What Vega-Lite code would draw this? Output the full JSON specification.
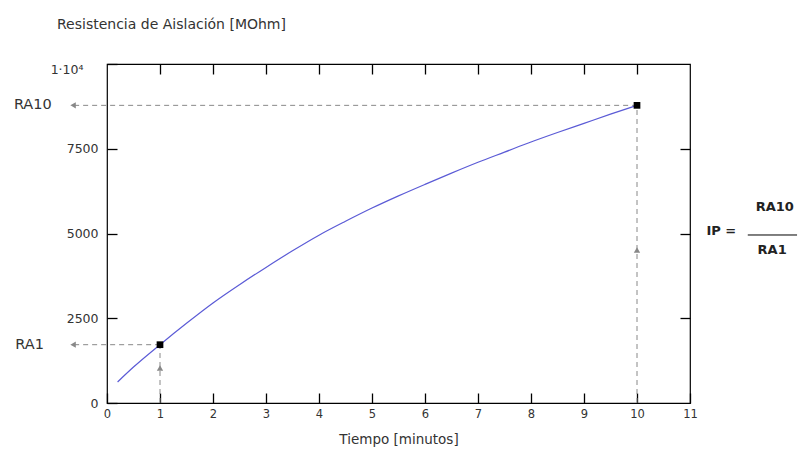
{
  "$schema": "https://vega.github.io/schema/vega-lite/v6.json",
  "width": 583,
  "height": 339,
  "autosize": "none",
  "padding": {"left": 107, "top": 64, "right": 108, "bottom": 49},
  "background": "white",
  "title": {
    "text": "Resistencia de Aislación [MOhm]",
    "anchor": "start",
    "frame": "group",
    "dx": -50,
    "offset": 20,
    "baseline": "alphabetic",
    "fontSize": 14,
    "fontWeight": "normal",
    "font": "DejaVu Sans",
    "color": "#333333"
  },
  "config": {
    "font": "DejaVu Sans",
    "view": {"stroke": "#000000", "strokeWidth": 1.2},
    "axis": {
      "labelFont": "DejaVu Sans",
      "labelColor": "#333333",
      "tickColor": "#000000",
      "tickWidth": 1.3,
      "tickSize": 10,
      "offset": -10,
      "domain": false,
      "grid": false,
      "labelFlush": false,
      "titleFont": "DejaVu Sans",
      "titleFontWeight": "normal",
      "titleColor": "#333333"
    }
  },
  "datasets": {
    "curve": [
      {"t": 0.2, "r": 620}, {"t": 0.5, "r": 1060}, {"t": 1, "r": 1720},
      {"t": 1.5, "r": 2350}, {"t": 2, "r": 2950}, {"t": 2.5, "r": 3490},
      {"t": 3, "r": 4000}, {"t": 3.5, "r": 4490}, {"t": 4, "r": 4950},
      {"t": 4.5, "r": 5360}, {"t": 5, "r": 5750}, {"t": 5.5, "r": 6110},
      {"t": 6, "r": 6450}, {"t": 6.5, "r": 6780}, {"t": 7, "r": 7100},
      {"t": 7.5, "r": 7400}, {"t": 8, "r": 7700}, {"t": 8.5, "r": 7980},
      {"t": 9, "r": 8250}, {"t": 9.5, "r": 8520}, {"t": 10, "r": 8780}
    ],
    "pts": [{"t": 1, "r": 1720}, {"t": 10, "r": 8780}],
    "hdash": [{"t": -0.62, "t2": 1, "r": 1720}, {"t": -0.62, "t2": 10, "r": 8780}],
    "vdash": [{"t": 1, "r": 0, "r2": 1720}, {"t": 10, "r": 0, "r2": 8780}],
    "larrow": [{"t": -0.64, "r": 1720}, {"t": -0.64, "r": 8780}],
    "uarrow": [{"t": 1, "r": 1030}, {"t": 10, "r": 4510}],
    "ralabels": [{"t": -1.46, "r": 1720, "label": "RA1"}, {"t": -1.4, "r": 8780, "label": "RA10"}],
    "ip": [
      {"t": 11.59, "r": 5080, "label": "IP ="},
      {"t": 12.6, "r": 5780, "label": "RA10"},
      {"t": 12.55, "r": 4520, "label": "RA1"}
    ],
    "frac": [{"t": 12.09, "t2": 13.02, "r": 4956}]
  },
  "resolve": {"axis": {"x": "independent", "y": "independent"}},
  "layer": [
    {
      "data": {"name": "vdash"},
      "mark": {"type": "rule", "color": "#888888", "strokeDash": [5, 4], "strokeWidth": 1},
      "encoding": {
        "x": {"field": "t", "type": "quantitative", "scale": {"domain": [0, 11], "nice": false, "zero": false},
          "axis": {"orient": "top", "values": [1, 2, 3, 4, 5, 6, 7, 8, 9, 10], "labels": false, "title": null}},
        "y": {"field": "r", "type": "quantitative", "scale": {"domain": [0, 10000], "nice": false, "zero": false},
          "axis": {"orient": "right", "values": [2500, 5000, 7500], "labels": false, "title": null}},
        "y2": {"field": "r2"}
      }
    },
    {
      "data": {"name": "hdash"},
      "mark": {"type": "rule", "color": "#888888", "strokeDash": [5, 4], "strokeWidth": 1},
      "encoding": {
        "x": {"field": "t", "type": "quantitative", "scale": {"domain": [0, 11], "nice": false, "zero": false}, "axis": null},
        "x2": {"field": "t2"},
        "y": {"field": "r", "type": "quantitative", "scale": {"domain": [0, 10000], "nice": false, "zero": false}, "axis": null}
      }
    },
    {
      "data": {"name": "curve"},
      "mark": {"type": "line", "color": "#5b5bd6", "strokeWidth": 1.2, "interpolate": "monotone"},
      "encoding": {
        "x": {"field": "t", "type": "quantitative", "scale": {"domain": [0, 11], "nice": false, "zero": false},
          "axis": {"orient": "bottom", "values": [1, 2, 3, 4, 5, 6, 7, 8, 9, 10, 0, 11], "labelFontSize": 11.5, "labelPadding": 5, "title": "Tiempo [minutos]", "titleFontSize": 13.5, "titlePadding": 13}},
        "y": {"field": "r", "type": "quantitative", "scale": {"domain": [0, 10000], "nice": false, "zero": false},
          "axis": {"orient": "left", "values": [0, 2500, 5000, 7500, 10000], "format": "d", "labelFontSize": 12.5,
            "labelPadding": {"condition": {"test": "datum.value == 10000", "value": 24}, "value": 9},
            "labelOffset": {"condition": {"test": "datum.value == 10000", "value": 5}, "value": 0},
            "title": null,
            "labelExpr": "datum.value == 10000 ? '1·10⁴' : datum.label"}}
      }
    },
    {
      "data": {"name": "pts"},
      "mark": {"type": "point", "shape": "square", "filled": true, "color": "#000000", "size": 45, "opacity": 1},
      "encoding": {
        "x": {"field": "t", "type": "quantitative", "scale": {"domain": [0, 11], "nice": false, "zero": false}, "axis": null},
        "y": {"field": "r", "type": "quantitative", "scale": {"domain": [0, 10000], "nice": false, "zero": false}, "axis": null}
      }
    },
    {
      "data": {"name": "larrow"},
      "mark": {"type": "point", "shape": "triangle-left", "filled": true, "color": "#888888", "size": 40, "opacity": 1},
      "encoding": {
        "x": {"field": "t", "type": "quantitative", "scale": {"domain": [0, 11], "nice": false, "zero": false}, "axis": null},
        "y": {"field": "r", "type": "quantitative", "scale": {"domain": [0, 10000], "nice": false, "zero": false}, "axis": null}
      }
    },
    {
      "data": {"name": "uarrow"},
      "mark": {"type": "point", "shape": "triangle-up", "filled": true, "color": "#888888", "size": 40, "opacity": 1},
      "encoding": {
        "x": {"field": "t", "type": "quantitative", "scale": {"domain": [0, 11], "nice": false, "zero": false}, "axis": null},
        "y": {"field": "r", "type": "quantitative", "scale": {"domain": [0, 10000], "nice": false, "zero": false}, "axis": null}
      }
    },
    {
      "data": {"name": "ralabels"},
      "mark": {"type": "text", "font": "DejaVu Sans", "fontSize": 14.5, "color": "#333333", "align": "center", "baseline": "middle"},
      "encoding": {
        "x": {"field": "t", "type": "quantitative", "scale": {"domain": [0, 11], "nice": false, "zero": false}, "axis": null},
        "y": {"field": "r", "type": "quantitative", "scale": {"domain": [0, 10000], "nice": false, "zero": false}, "axis": null},
        "text": {"field": "label"}
      }
    },
    {
      "data": {"name": "ip"},
      "mark": {"type": "text", "font": "DejaVu Sans", "fontSize": 13, "fontWeight": "bold", "color": "#222222", "align": "center", "baseline": "middle"},
      "encoding": {
        "x": {"field": "t", "type": "quantitative", "scale": {"domain": [0, 11], "nice": false, "zero": false}, "axis": null},
        "y": {"field": "r", "type": "quantitative", "scale": {"domain": [0, 10000], "nice": false, "zero": false}, "axis": null},
        "text": {"field": "label"}
      }
    },
    {
      "data": {"name": "frac"},
      "mark": {"type": "rule", "color": "#000000", "strokeWidth": 1},
      "encoding": {
        "x": {"field": "t", "type": "quantitative", "scale": {"domain": [0, 11], "nice": false, "zero": false}, "axis": null},
        "x2": {"field": "t2"},
        "y": {"field": "r", "type": "quantitative", "scale": {"domain": [0, 10000], "nice": false, "zero": false}, "axis": null}
      }
    }
  ]
}
